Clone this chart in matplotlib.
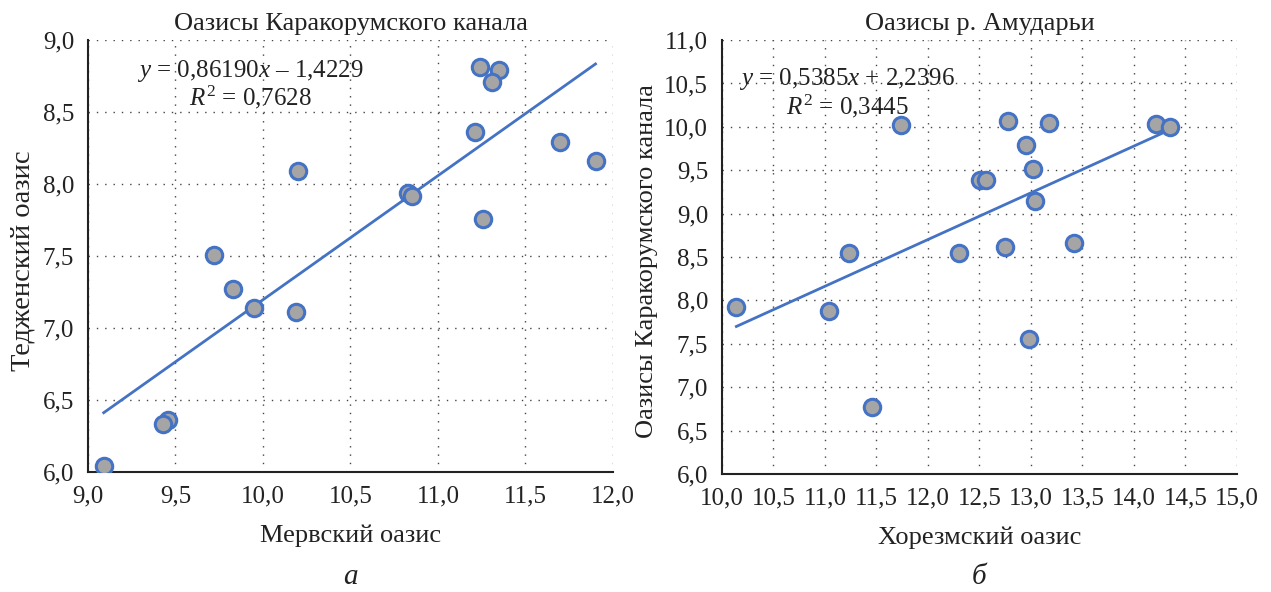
import matplotlib
matplotlib.use('Agg')
import matplotlib.pyplot as plt
from matplotlib.ticker import FuncFormatter, MultipleLocator
import numpy as np

plt.rcParams['font.family'] = ['Liberation Serif', 'DejaVu Serif']
plt.rcParams['mathtext.fontset'] = 'custom'
plt.rcParams['mathtext.rm'] = 'Liberation Serif'
plt.rcParams['mathtext.it'] = 'Liberation Serif:italic'

# panel a: Merv oasis vs Tedzhen oasis
merv = [9.09, 9.46, 9.43, 9.72, 9.83, 9.95, 10.19, 10.20, 10.83, 10.85,
        11.21, 11.24, 11.35, 11.31, 11.26, 11.70, 11.90]
tedzhen = [6.04, 6.36, 6.33, 7.51, 7.27, 7.14, 7.11, 8.09, 7.94, 7.92,
           8.36, 8.81, 8.79, 8.71, 7.76, 8.29, 8.16]
slope_a, icpt_a = 0.86190, -1.4229

# panel b: Khorezm oasis vs Karakum canal oases
khorezm = [10.14, 11.04, 11.23, 11.46, 11.74, 12.30, 12.51, 12.56, 12.75,
           12.78, 12.95, 12.98, 13.02, 13.04, 13.18, 13.42, 14.21, 14.35]
karakum = [7.92, 7.88, 8.55, 6.77, 10.02, 8.55, 9.39, 9.39, 8.62,
           10.07, 9.79, 7.56, 9.52, 9.15, 10.04, 8.66, 10.03, 10.00]
slope_b, icpt_b = 0.5385, 2.2396

BLUE = '#4472C4'
GREY = '#A5A5A5'
INK = '#222222'
fmt = FuncFormatter(lambda v, p: f'{v:.1f}'.replace('.', ','))

fig = plt.figure(figsize=(12.71, 5.92), dpi=100)
ax1 = fig.add_axes([0.0692, 0.2027, 0.4131, 0.7297])
ax2 = fig.add_axes([0.5680, 0.1993, 0.4052, 0.7330])


def style(ax, xlim, ylim):
    ax.set_xlim(*xlim)
    ax.set_ylim(*ylim)
    ax.xaxis.set_major_locator(MultipleLocator(0.5))
    ax.yaxis.set_major_locator(MultipleLocator(0.5))
    ax.xaxis.set_major_formatter(fmt)
    ax.yaxis.set_major_formatter(fmt)
    ax.grid(True, color='#444444', linestyle=(0, (1, 5)), linewidth=1.0)
    ax.set_axisbelow(True)
    for s in ('top', 'right'):
        ax.spines[s].set_visible(False)
    for s in ('left', 'bottom'):
        ax.spines[s].set_linewidth(1.5)
        ax.spines[s].set_color(INK)
    ax.tick_params(length=0, labelsize=18, pad=10, colors=INK)


def trend(ax, x, y, k, b):
    xs = np.array([min(x), max(x)])
    ax.plot(xs, k * xs + b, color=BLUE, lw=2, zorder=2)
    ax.scatter(x, y, s=140, facecolor=GREY, edgecolor=BLUE,
               linewidth=2.2, zorder=3)


style(ax1, (9.0, 12.0), (6.0, 9.0))
trend(ax1, merv, tedzhen, slope_a, icpt_a)
ax1.set_title('Оазисы Каракорумского канала', fontsize=19, pad=7, color=INK)
ax1.set_xlabel('Мервский оазис', fontsize=19, labelpad=12, color=INK)
ax1.set_ylabel('Тедженский оазис', fontsize=20.5, color=INK)
ax1.yaxis.set_label_coords(-0.099, 0.49)
ax1.text(9.93, 8.69, '$y$ = 0,86190$x$ – 1,4229\n$R^2$ = 0,7628',
         ha='center', va='center', fontsize=18, linespacing=1.0, color=INK)

style(ax2, (10.0, 15.0), (6.0, 11.0))
trend(ax2, khorezm, karakum, slope_b, icpt_b)
ax2.set_title('Оазисы р. Амударьи', fontsize=19, pad=7, color=INK)
ax2.set_xlabel('Хорезмский оазис', fontsize=19, labelpad=12, color=INK)
ax2.set_ylabel('Оазисы Каракорумского канала', fontsize=19, color=INK)
ax2.yaxis.set_label_coords(-0.124, 0.49)
ax2.text(11.22, 10.39, '$y$ = 0,5385$x$ + 2,2396\n$R^2$ = 0,3445',
         ha='center', va='center', fontsize=18, linespacing=1.0, color=INK)

fig.text(350 / 1271, 1 - 577 / 592, 'а', style='italic', fontsize=21,
         ha='center', va='center', color=INK)
fig.text(979 / 1271, 1 - 577 / 592, 'б', style='italic', fontsize=21,
         ha='center', va='center', color=INK)

fig.savefig('out.png', dpi=100)
